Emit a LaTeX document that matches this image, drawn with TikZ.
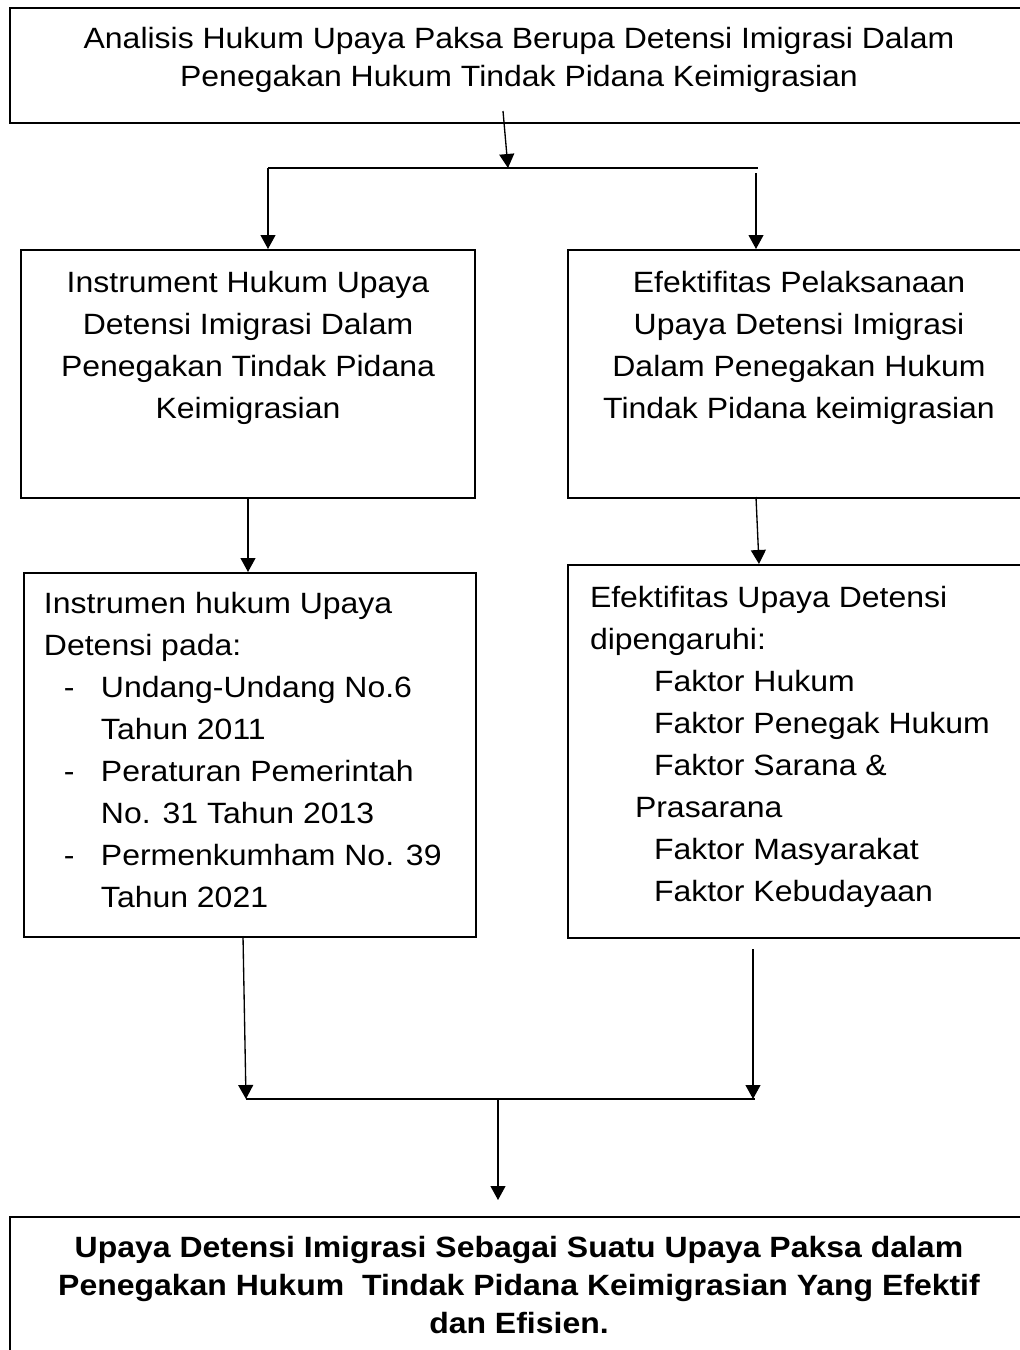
\documentclass[tikz,border=0pt]{standalone}
\usepackage{fontspec}
\setmainfont{Liberation Sans}[FakeStretch=1.09]
\usetikzlibrary{arrows.meta, positioning}
\newdimen\px \px=0.375pt

\begin{document}
\begin{tikzpicture}[
    x=0.375pt, y=-0.375pt,
    box/.style={draw, line width=0.75pt, inner sep=0pt, anchor=north west},
    tight/.style={font=\fontsize{11pt}{14.25pt}\selectfont},
    loose/.style={font=\fontsize{11pt}{15.75pt}\selectfont},
    arr/.style={-{Triangle[length=5.25pt, width=5.6pt]}, line width=0.5pt},
    link/.style={line width=0.5pt}
]
\useasboundingbox (0,0) rectangle (1020,1350);
\clip (0,0) rectangle (1020,1350);
% Top box
\node[box, tight] (analisis) at (9,7) {\parbox[t][115\px][t]{1018\px}{\centering\vspace*{19\px}
  Analisis Hukum Upaya Paksa Berupa Detensi Imigrasi Dalam\\
  Penegakan Hukum Tindak Pidana Keimigrasian}};
% Second row
\node[box, loose] (instrumen) at (20,249) {\parbox[t][248\px][t]{454\px}{\centering\vspace*{21\px}
  Instrument Hukum Upaya\\
  Detensi Imigrasi Dalam\\
  Penegakan Tindak Pidana\\
  Keimigrasian}};
\node[box, loose] (efektif) at (567,249) {\parbox[t][248\px][t]{462\px}{\centering\vspace*{21\px}
  Efektifitas Pelaksanaan\\
  Upaya Detensi Imigrasi\\
  Dalam Penegakan Hukum\\
  Tindak Pidana keimigrasian}};
% Third row
\node[box, loose] (dasar) at (23,572) {\parbox[t][364\px][t]{452\px}{\raggedright\leftskip=20\px\vspace*{19\px}
  Instrumen hukum Upaya\\
  Detensi pada:\\
  \hspace*{20\px}\makebox[37\px][l]{-}Undang-Undang No.6\\
  \hspace*{57\px}Tahun 2011\\
  \hspace*{20\px}\makebox[37\px][l]{-}Peraturan Pemerintah\\
  \hspace*{57\px}No. 31 Tahun 2013\\
  \hspace*{20\px}\makebox[37\px][l]{-}Permenkumham No. 39\\
  \hspace*{57\px}Tahun 2021}};
\node[box, loose] (faktor) at (567,564) {\parbox[t][373\px][t]{462\px}{\raggedright\leftskip=22\px\vspace*{21\px}
  Efektifitas Upaya Detensi\\
  dipengaruhi:\\
  \hspace*{64\px}Faktor Hukum\\
  \hspace*{64\px}Faktor Penegak Hukum\\
  \hspace*{64\px}Faktor Sarana \&\\
  \hspace*{45\px}Prasarana\\
  \hspace*{64\px}Faktor Masyarakat\\
  \hspace*{64\px}Faktor Kebudayaan}};
% Result
\node[box, tight, font=\fontsize{11pt}{14.25pt}\selectfont\bfseries] (hasil) at (9,1216) {\parbox[t][150\px][t]{1018\px}{\centering\vspace*{19\px}
  Upaya Detensi Imigrasi Sebagai Suatu Upaya Paksa dalam\\
  Penegakan Hukum\ \ Tindak Pidana Keimigrasian Yang Efektif\\
  dan Efisien.}};
% Junction points
\coordinate (top) at (503,111);
\coordinate (fork) at (508,168);
\coordinate (forkL) at (268,168);
\coordinate (forkR) at (758,168);
\coordinate (dropR) at (756,173);
\coordinate (midR) at (756,497);
\coordinate (midRend) at (759,564);
\coordinate (lowL) at (243,936);
\coordinate (lowR) at (753,949);
\coordinate (joinL) at (246,1099);
\coordinate (joinR) at (755,1099);
\coordinate (join) at (498,1099);
\coordinate (hasilIn) at (498,1200);
% Connectors
\draw[arr] (top) -- (fork);
\draw[link] (forkL) -- (forkR);
\draw[arr] (forkL) -- (forkL |- instrumen.north);
\draw[arr] (dropR) -- (dropR |- efektif.north);
\draw[arr] (instrumen.south) -- (instrumen.south |- dasar.north);
\draw[arr] (midR) -- (midRend);
\draw[arr] (lowL) -- (joinL);
\draw[arr] (lowR) -- (lowR |- joinR);
\draw[link] (joinL) -- (joinR);
\draw[arr] (join) -- (hasilIn);
\end{tikzpicture}
\end{document}
